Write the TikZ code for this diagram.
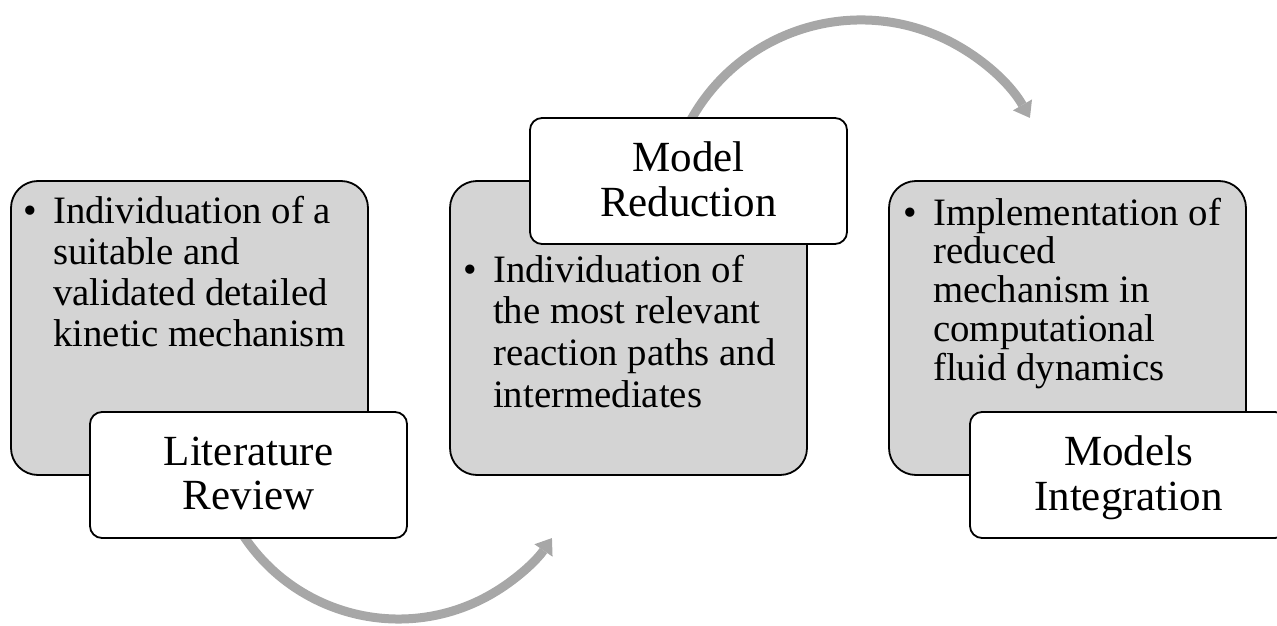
\documentclass[tikz,border=0pt]{standalone}
\usepackage{fontspec}
\setmainfont{Liberation Serif}
\usetikzlibrary{arrows.meta}

\definecolor{panelgray}{RGB}{212,212,212}
\definecolor{arcgray}{RGB}{167,167,167}

% stacked lines, first baseline is the box baseline
\newcommand{\leftlines}[2]{\vtop{\baselineskip=#1\lineskiplimit=-\maxdimen #2}}
\newcommand{\bulletline}[1]{\hbox{\llap{\textbullet\hskip 16pt}#1}}
\newcommand{\tagline}[1]{\hbox to 317pt{\hss #1\hss}}

\tikzset{
  panel/.style={draw=black, line width=1.8pt, fill=panelgray,
    rounded corners=27pt, minimum width=357pt, minimum height=294pt,
    anchor=north west, inner sep=0pt, outer sep=0pt},
  tag/.style={draw=black, line width=1.8pt, fill=white,
    rounded corners=12pt, minimum width=317pt, minimum height=126pt,
    anchor=north west, inner sep=0pt, outer sep=0pt},
  itemtext/.style={anchor=base west, inner sep=0pt,
    font=\fontsize{38.8pt}{41.5pt}\selectfont},
  tagtext/.style={anchor=base, inner sep=0pt,
    font=\fontsize{43pt}{44pt}\selectfont},
  flowarc/.style={draw=arcgray, line width=9pt,
    -{Triangle[length=15pt, width=22pt, line width=0pt]}},
}

\begin{document}
\begin{tikzpicture}[x=1pt, y=-1pt]
\useasboundingbox (0,0) rectangle (1277,626);

% content panels
\node[panel] (p1) at (11,181) {};
\node[panel] (p2) at (450,181) {};
\node[panel] (p3) at (889,181) {};

% curved flow arrows, starting underneath the title tags
\coordinate (arcAstart) at (237.4,526);
\coordinate (arcBstart) at (684.5,132.4);
\draw[flowarc] (arcAstart) arc[start angle=150, end angle=34.4, radius=186];
\draw[flowarc] (arcBstart) arc[start angle=-155, end angle=-29.8, radius=194.7];

% title tags
\node[tag] (g1) at (90,412) {};
\node[tag] (g2) at (530,118) {};
\node[tag] (g3) at (970,412) {};

% panel texts
\node[itemtext] (t1) at (53,223) {\leftlines{41.3pt}{%
  \bulletline{Individuation of a}
  \hbox{suitable and}
  \hbox{validated detailed}
  \hbox{kinetic mechanism}}};
\node[itemtext] (t2) at (493,282) {\leftlines{41.7pt}{%
  \bulletline{Individuation of}
  \hbox{the most relevant}
  \hbox{reaction paths and}
  \hbox{intermediates}}};
\node[itemtext] (t3) at (933,225) {\leftlines{38.9pt}{%
  \bulletline{Implementation of}
  \hbox{reduced}
  \hbox{mechanism in}
  \hbox{computational}
  \hbox{fluid dynamics}}};

% tag texts
\node[tagtext] (l1) at (248.5,465.5) {\leftlines{43.5pt}{%
  \tagline{Literature}\tagline{Review}}};
\node[tagtext] (l2) at (688.5,171.5) {\leftlines{44.5pt}{%
  \tagline{Model}\tagline{Reduction}}};
\node[tagtext] (l3) at (1128.5,465.5) {\leftlines{44.5pt}{%
  \tagline{Models}\tagline{Integration}}};
\end{tikzpicture}
\end{document}
